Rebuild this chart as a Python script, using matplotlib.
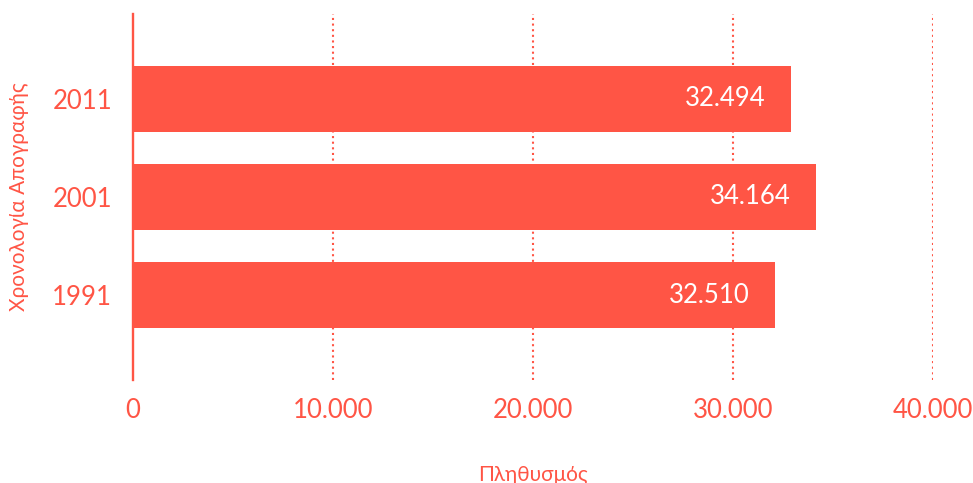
import matplotlib
matplotlib.use("Agg")
import matplotlib.pyplot as plt

plt.rcParams['font.family'] = ['Lato', 'Noto Sans', 'DejaVu Sans']

years = ["1991", "2001", "2011"]
populations = [32100, 34150, 32900]          # bar lengths as drawn
value_labels = ["32.510", "34.164", "32.494"]
x_ticks = [0, 10000, 20000, 30000, 40000]
x_tick_labels = ["0", "10.000", "20.000", "30.000", "40.000"]
x_title = "Πληθυσμός"
y_title = "Χρονολογία Απογραφής"

color = "#ff5545"
W, H = 973, 483
fig = plt.figure(figsize=(W / 100, H / 100), dpi=100)
ax = fig.add_axes([133 / W, 1 - 380 / H, 800 / W, 366 / H])

pos = list(range(len(years)))
ax.barh(pos, populations, height=0.67, color=color, zorder=3)
ax.set_xlim(0, 40000)
ax.set_ylim(-0.86, 2.86)

for p, v, lab in zip(pos, populations, value_labels):
    ax.annotate(lab, (v, p), xytext=(-25, 0), textcoords="offset pixels",
                ha="right", va="center", color="white", fontsize=18.5, zorder=4)

for t in x_ticks[1:]:
    ax.axvline(t, color=color, lw=1.5, linestyle=(0, (1, 1.7)), zorder=1)

for s in ["top", "right", "bottom"]:
    ax.spines[s].set_visible(False)
ax.spines["left"].set_color(color)
ax.spines["left"].set_linewidth(1.7)
ax.spines["left"].set_zorder(5)

ax.set_xticks(x_ticks)
ax.set_xticklabels(x_tick_labels)
ax.set_yticks(pos)
ax.set_yticklabels(years)
ax.tick_params(axis="both", length=0, colors=color, labelsize=18.5)
ax.tick_params(axis="x", pad=13)
ax.tick_params(axis="y", pad=15)

ax.set_xlabel(x_title, color=color, fontsize=15, labelpad=30)
ax.set_ylabel(y_title, color=color, fontsize=15, labelpad=17)

fig.savefig("out.png", dpi=100)
